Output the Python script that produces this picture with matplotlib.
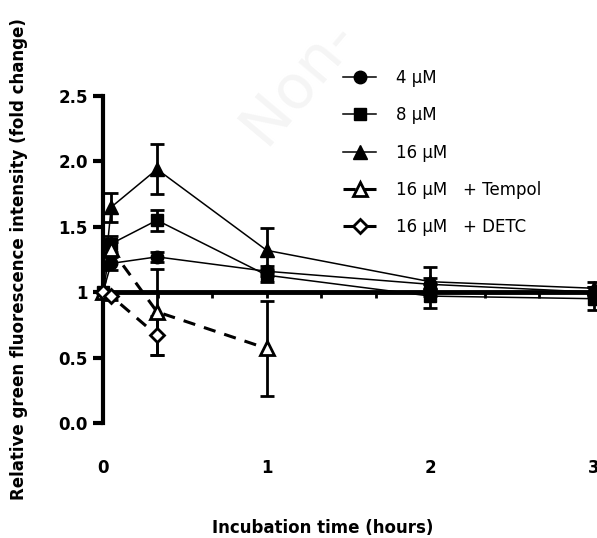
import matplotlib.pyplot as plt
from matplotlib.ticker import MultipleLocator

# time points (hours) and mean fold change / SD
times = [0, 0.05, 0.33, 1, 2, 3]
uM4 = [1.0, 1.22, 1.27, 1.16, 1.06, 1.00]
uM4_err = [0, 0.05, 0.04, 0.04, 0.05, 0.04]
uM8 = [1.0, 1.37, 1.55, 1.13, 0.97, 0.95]
uM8_err = [0, 0.06, 0.08, 0.05, 0.09, 0.09]
uM16 = [1.0, 1.65, 1.94, 1.32, 1.08, 1.03]
uM16_err = [0, 0.11, 0.19, 0.17, 0.11, 0.05]

times_tempol = [0, 0.05, 0.33, 1]
tempol = [1.0, 1.33, 0.85, 0.57]
tempol_err = [0, 0.05, 0.33, 0.36]

times_detc = [0, 0.05, 0.33]
detc = [1.0, 0.97, 0.67]
detc_err = [0, 0.03, 0.15]

yticks = [0, 0.5, 1, 1.5, 2.0, 2.5]
yticklabels = ['0.0', '0.5', '1', '1.5', '2.0', '2.5']
xticks = [0, 1, 2, 3]

plt.rcParams['font.family'] = ['DejaVu Sans']

fig = plt.figure(figsize=(5.97, 5.38), dpi=100)
ax = fig.add_axes([0.1725, 0.2138, 0.8225, 0.6078])

# faint watermark
fig.text(0.50, 0.85, 'Non-', fontsize=44, color='#f5f5f5', rotation=50,
         ha='center', va='center', zorder=0)

series = [
    (times, uM4, uM4_err, 'o', 9, 'black', 1.1, '-', '4 μM'),
    (times, uM8, uM8_err, 's', 8.5, 'black', 1.1, '-', '8 μM'),
    (times, uM16, uM16_err, '^', 9.5, 'black', 1.1, '-', '16 μM'),
    (times_tempol, tempol, tempol_err, '^', 10, 'white', 2.2, (0, (4, 3)),
     '16 μM   + Tempol'),
    (times_detc, detc, detc_err, 'D', 7.5, 'white', 2.2, (0, (4, 3)),
     '16 μM   + DETC'),
]

for x, y, err, mk, ms, mfc, lw, ls, lab in series:
    ax.errorbar(x, y, yerr=err, fmt='none', ecolor='black', elinewidth=2,
                capsize=5, capthick=2, clip_on=False, zorder=3)
    ax.plot(x, y, marker=mk, ms=ms, mfc=mfc, mec='black', mew=2 if mfc == 'white' else 1,
            color='black', lw=lw, ls=ls, label=lab, clip_on=False, zorder=4)

ax.set_xlim(0, 3)
ax.set_ylim(0, 2.5)

for s in ['top', 'right', 'bottom']:
    ax.spines[s].set_visible(False)
ax.spines['left'].set_linewidth(3)

ax.set_yticks(yticks)
ax.set_yticklabels(yticklabels, fontsize=12, fontweight='bold')
ax.tick_params(axis='y', length=7, width=3, pad=4)

ax.set_xticks(xticks)
ax.set_xticklabels([str(t) for t in xticks], fontsize=12, fontweight='bold')
ax.tick_params(axis='x', length=0, pad=26)

# x axis line crossing at y = 1
sec = ax.secondary_xaxis(1, transform=ax.transData)
for sp in sec.spines.values():
    sp.set_linewidth(3.5)
sec.xaxis.set_ticks_position('bottom')
sec.set_xticks(xticks)
sec.xaxis.set_minor_locator(MultipleLocator(1 / 3))
sec.tick_params(axis='x', which='both', length=4, width=2,
                labelbottom=False, labeltop=False)

ax.set_xlabel('Incubation time (hours)', fontsize=12, fontweight='bold',
              labelpad=30)
ax.xaxis.label.set_x(0.448)
ax.set_ylabel('Relative green fluorescence intensity (fold change)',
              fontsize=12, fontweight='bold', labelpad=22)

ax.legend(loc='upper left', bbox_to_anchor=(0.5745, 0.872),
          bbox_transform=fig.transFigure, frameon=False, fontsize=12,
          handlelength=2.0, handletextpad=1.2, labelspacing=1.16,
          borderpad=0, borderaxespad=0)

fig.savefig('out.png', dpi=100)
